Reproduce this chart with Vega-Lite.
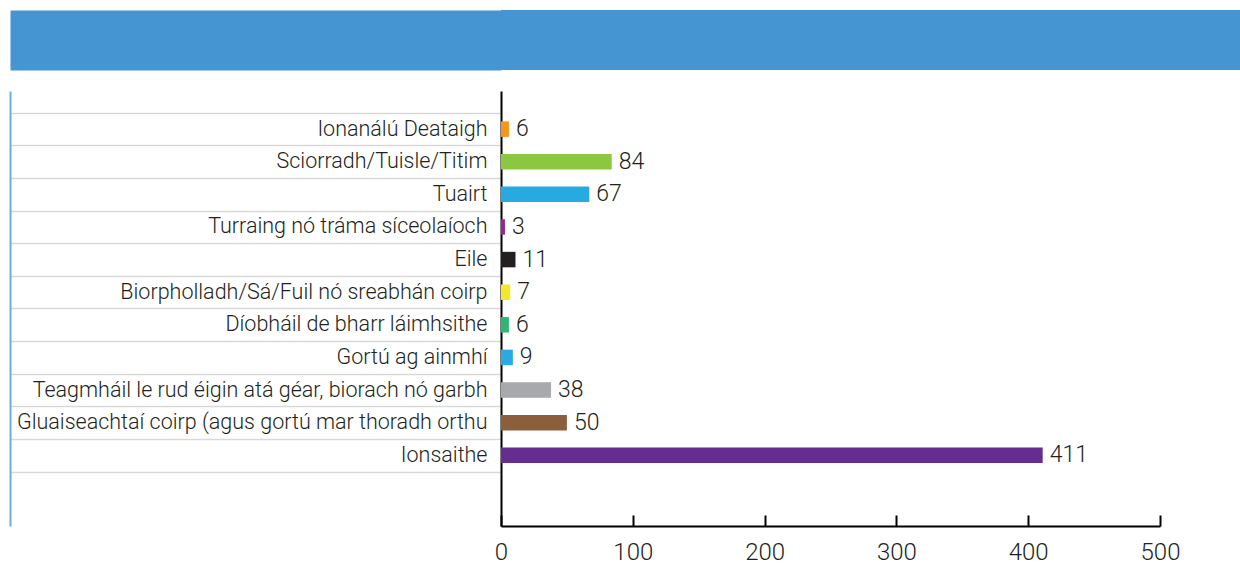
{
  "$schema": "https://vega.github.io/schema/vega-lite/v6.json",
  "background": "white",
  "padding": {"left": -20, "top": 10, "right": 0, "bottom": 0},
  "spacing": 10,
  "config": {"view": {"stroke": null}, "font": "Roboto"},
  "vconcat": [
    {
      "width": 739,
      "height": 60,
      "view": {"fill": "#4495d1", "stroke": null},
      "data": {"values": [{"t": "", "k": "a"}]},
      "mark": {"type": "text"},
      "encoding": {
        "text": {"field": "t"},
        "y": {
          "field": "k",
          "type": "nominal",
          "title": null,
          "axis": {"domain": false, "labels": false, "minExtent": 0, "tickSize": 491, "tickWidth": 60, "tickColor": "#4495d1", "tickCap": "butt"}
        }
      }
    },
    {
      "width": 659,
      "height": 435,
      "data": {
        "values": [
          {"cat": "Ionanálú Deataigh", "n": 6, "col": "#f7941d"},
          {"cat": "Sciorradh/Tuisle/Titim", "n": 84, "col": "#8dc63f"},
          {"cat": "Tuairt", "n": 67, "col": "#27aae1"},
          {"cat": "Turraing nó tráma síceolaíoch", "n": 3, "col": "#92278f"},
          {"cat": "Eile", "n": 11, "col": "#231f20"},
          {"cat": "Biorpholladh/Sá/Fuil nó sreabhán coirp", "n": 7, "col": "#f5e82a"},
          {"cat": "Díobháil de bharr láimhsithe", "n": 6, "col": "#2eb774"},
          {"cat": "Gortú ag ainmhí", "n": 9, "col": "#29abe2"},
          {"cat": "Teagmháil le rud éigin atá géar, biorach nó garbh", "n": 38, "col": "#a7a9ac"},
          {"cat": "Gluaiseachtaí coirp (agus gortú mar thoradh orthu", "n": 50, "col": "#8b5e3c"},
          {"cat": "Ionsaithe", "n": 411, "col": "#662d91"}
        ]
      },
      "resolve": {"axis": {"y": "independent"}},
      "layer": [
        {
          "mark": {"type": "bar", "size": 15.5},
          "encoding": {
            "y": {
              "field": "cat",
              "type": "nominal",
              "sort": null,
              "title": null,
              "scale": {
                "domain": ["Ionanálú Deataigh", "Sciorradh/Tuisle/Titim", "Tuairt", "Turraing nó tráma síceolaíoch", "Eile", "Biorpholladh/Sá/Fuil nó sreabhán coirp", "Díobháil de bharr láimhsithe", "Gortú ag ainmhí", "Teagmháil le rud éigin atá géar, biorach nó garbh", "Gluaiseachtaí coirp (agus gortú mar thoradh orthu", "Ionsaithe", " "],
                "paddingInner": 0,
                "paddingOuter": 0.67,
                "align": 0.5
              },
              "axis": {
                "orient": "left",
                "values": ["Ionanálú Deataigh", "Sciorradh/Tuisle/Titim", "Tuairt", "Turraing nó tráma síceolaíoch", "Eile", "Biorpholladh/Sá/Fuil nó sreabhán coirp", "Díobháil de bharr láimhsithe", "Gortú ag ainmhí", "Teagmháil le rud éigin atá géar, biorach nó garbh", "Gluaiseachtaí coirp (agus gortú mar thoradh orthu", "Ionsaithe"],
                "minExtent": 0,
                "domainColor": "#000000",
                "domainWidth": 2,
                "tickBand": "extent",
                "tickSize": 491,
                "tickColor": "#d9d9d9",
                "tickWidth": 1.5,
                "labelPadding": -477,
                "labelFont": "Roboto",
                "labelFontWeight": 300,
                "labelFontSize": 21.5,
                "labelColor": "#231f20",
                "labelLimit": 0
              }
            },
            "x": {
              "field": "n",
              "type": "quantitative",
              "title": null,
              "scale": {"domain": [0, 500], "nice": false},
              "axis": {
                "values": [0, 100, 200, 300, 400, 500],
                "grid": false,
                "labelFlush": false,
                "domainColor": "#000000",
                "domainWidth": 2,
                "tickColor": "#000000",
                "tickWidth": 2,
                "tickSize": -11,
                "labelPadding": 25,
                "labelFont": "Roboto",
                "labelFontWeight": 300,
                "labelFontSize": 24,
                "labelColor": "#231f20"
              }
            },
            "color": {"field": "col", "type": "nominal", "scale": null, "legend": null}
          }
        },
        {
          "mark": {"type": "text", "align": "left", "baseline": "middle", "dx": 7, "fontSize": 23, "fontWeight": 300, "color": "#231f20", "font": "Roboto"},
          "encoding": {
            "y": {
              "field": "cat",
              "type": "nominal",
              "sort": null,
              "title": null,
              "axis": {
                "orient": "left",
                "offset": 491,
                "minExtent": 0,
                "domainColor": "#6aaee0",
                "domainWidth": 2,
                "ticks": false,
                "labels": false
              }
            },
            "x": {"field": "n", "type": "quantitative"},
            "text": {"field": "n", "type": "quantitative"}
          }
        }
      ]
    }
  ]
}
